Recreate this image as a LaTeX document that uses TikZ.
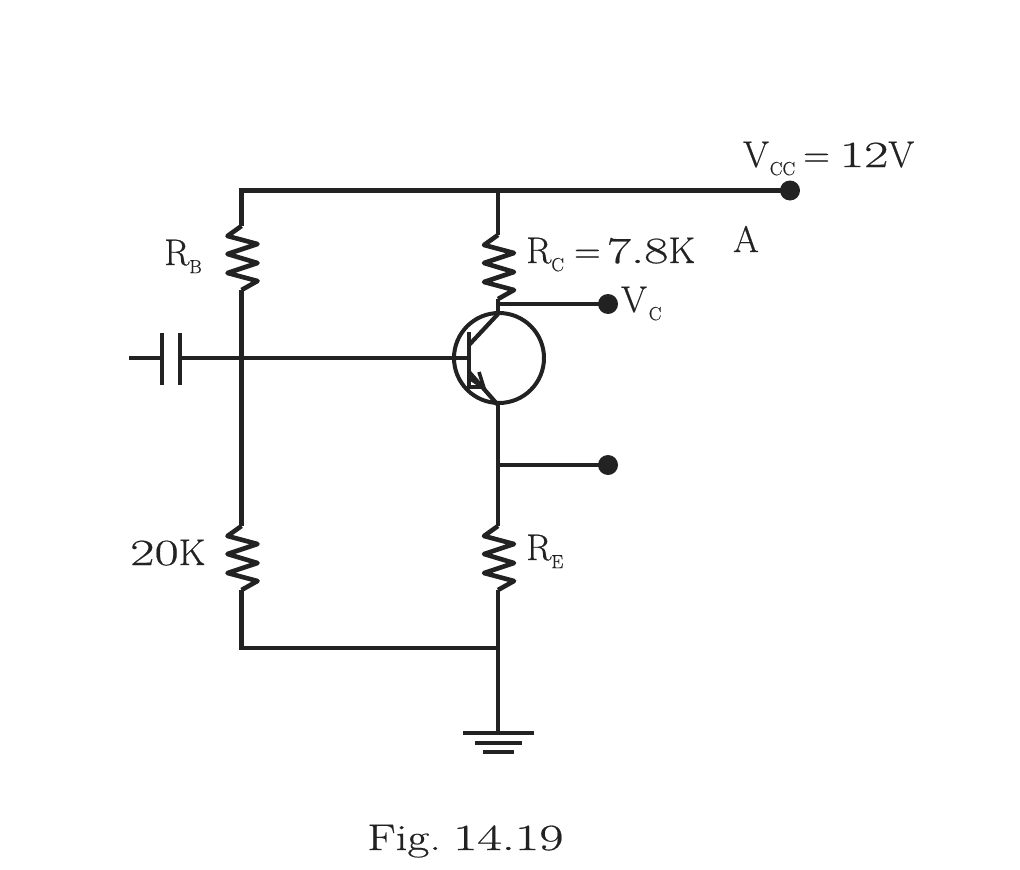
\documentclass[tikz,border=0pt]{standalone}
\usepackage{fontspec}
\setmainfont{Latin Modern Roman}[FakeBold=0.5]
\newfontfamily\dg{Latin Modern Roman}[FakeStretch=1.43,FakeBold=0.5]
\newfontfamily\fg{Latin Modern Roman}[FakeStretch=1.28,FakeBold=0.5]
\usetikzlibrary{calc}
\definecolor{ink}{HTML}{222222}
\newcommand{\lbl}[2]{#1\raisebox{-0.22em}{\fontsize{19}{19}\selectfont #2}}
\tikzset{
  x=1pt,y=-1pt,
  wire/.style={draw=ink,line width=4.2pt,line join=miter,line cap=butt},
  thin wire/.style={draw=ink,line width=3.8pt},
  term/.style={circle,fill=ink,inner sep=0pt,minimum size=20pt},
  txt/.style={text=ink,font=\fontsize{37}{37}\selectfont,inner sep=0pt},
  zigzag/.pic={\draw[wire,line width=4.6pt,line join=round] (0,0) -- (-14,10) -- (16,18) -- (-14,28) -- (16,37) -- (-14,47) -- (16,55) -- (0,64);}
}
\begin{document}
\begin{tikzpicture}
\useasboundingbox (0,0) rectangle (1020,870);
% junctions
\coordinate (tl) at (241.5,190.5);
\coordinate (tm) at (498,190.5);
\coordinate (rb1) at (241.5,226);
\coordinate (rb2) at (241.5,290);
\coordinate (rc1) at (498,235);
\coordinate (rc2) at (498,299);
\coordinate (r201) at (241.5,526);
\coordinate (r202) at (241.5,590);
\coordinate (re1) at (498,526);
\coordinate (re2) at (498,590);
\coordinate (bl) at (241.5,648);
\coordinate (bm) at (498,648);
\coordinate (gnd) at (498,733);
\coordinate (inl) at (129,358);
\coordinate (capa) at (161,358);
\coordinate (capb) at (180,358);
\coordinate (basej) at (241.5,358);
\coordinate (base) at (469,358);
\coordinate (cj) at (498,304);
\coordinate (ct) at (498,314);
\coordinate (cb) at (469,345);
\coordinate (eb) at (469,372);
\coordinate (et) at (498,405);
\coordinate (ej) at (498,465);
% terminals
\node[term] (vcc) at (790,190.5) {};
\node[term] (vc) at (608,304) {};
\node[term] (ve) at (608,465) {};
% transistor
\node[circle,draw=ink,line width=4pt,minimum size=90pt,inner sep=0pt] (q) at (499,358) {};
% rails
\draw[wire] (rb1) -- (tl) -- (vcc.center);
\draw[wire] (tm) -- (rc1);
\draw[wire] (rb2) -- (r201);
\draw[wire] (r202) -- (bl) -- (bm);
\draw[wire] (re2) -- (gnd);
\draw[wire] (rc2) -- (ct);
\draw[wire] (et) -- (re1);
\draw[thin wire] (cj) -- (vc.center);
\draw[wire] (ej) -- (ve.center);
% resistors
\pic at (rb1) {zigzag};
\pic at (rc1) {zigzag};
\pic at (r201) {zigzag};
\pic at (re1) {zigzag};
% capacitor and base
\draw[wire] (inl) -- (capa);
\draw[wire] (capb) -- (base);
\draw[wire] (162,333) -- (162,385);
\draw[wire] (180,333) -- (180,385);
% transistor internals
\draw[wire] (469,332) -- (469,387) -- (484,387);
\draw[wire] (ct) -- (cb);
\draw[wire] (eb) -- (et);
\draw[wire,line width=3.6pt] (479,372) -- (484,388) -- (469,378);
% ground
\draw[wire] (463,733) -- (534,733);
\draw[wire] (475,743) -- (522,743);
\draw[wire] (483,752) -- (514,752);
% labels
\node[txt,anchor=base west] (lvcc) at (743,167) {\lbl{V\kern1pt}{CC}\hspace{8pt}=\hspace{10pt}{\dg 12}V};
\node[txt,anchor=base west] (la) at (733,252) {A};
\node[txt,anchor=base west] (lrc) at (526,263) {\lbl{R}{C}\hspace{10pt}=\hspace{6pt}{\dg 7.8}K};
\node[txt,anchor=base west] (lvc) at (621,312) {\lbl{V\kern2pt}{C}};
\node[txt,anchor=base west] (lrb) at (164,265) {\lbl{R}{B}};
\node[txt,anchor=base west] (l20) at (130,565) {{\dg 20}K};
\node[txt,anchor=base west] (lre) at (526,560) {\lbl{R}{E}};
\node[txt,anchor=base west] (fig) at (367,850) {{\fg Fig.}\hspace{12pt}{\dg 14.19}};
\end{tikzpicture}
\end{document}
